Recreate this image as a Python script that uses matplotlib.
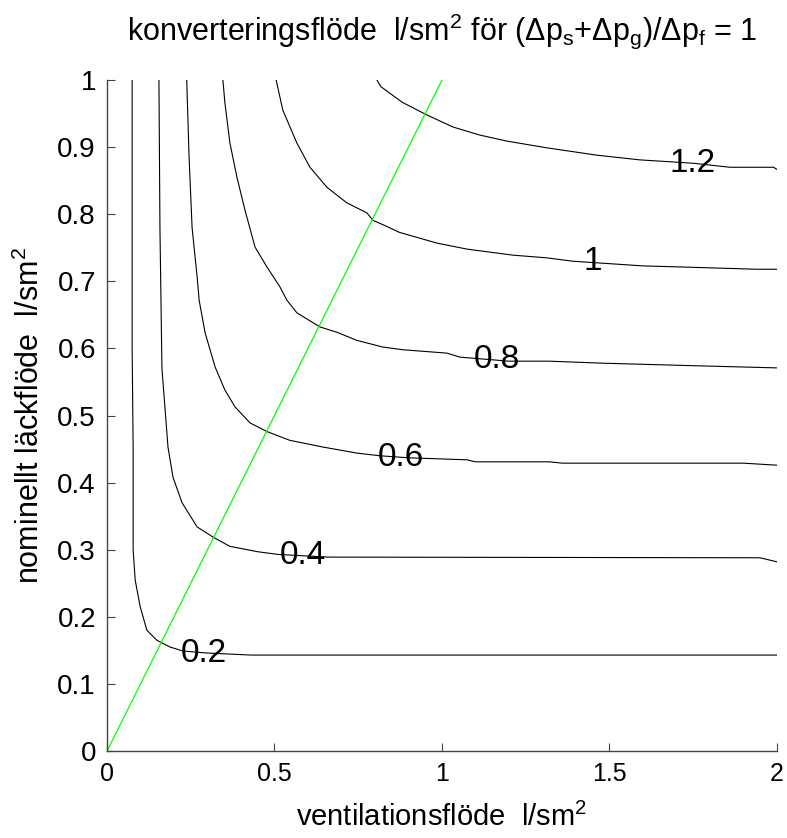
import matplotlib
matplotlib.use('Agg')
import matplotlib.pyplot as plt

plt.rcParams['font.family'] = ['Liberation Sans', 'DejaVu Sans']
plt.rcParams['mathtext.fontset'] = 'custom'
plt.rcParams['mathtext.rm'] = 'Liberation Sans'
plt.rcParams['mathtext.it'] = 'Liberation Sans'

# contour lines (x = ventilation flow, y = nominal leak flow)
x_02 = [0.075, 0.075, 0.078, 0.078, 0.084, 0.099, 0.119, 0.149, 0.188, 0.227, 0.30, 0.43, 2.0]
y_02 = [1.0, 0.60, 0.45, 0.30, 0.255, 0.215, 0.18, 0.165, 0.155, 0.149, 0.146, 0.143, 0.143]

x_04 = [0.155, 0.158, 0.164, 0.182, 0.197, 0.224, 0.269, 0.316, 0.367, 0.45, 0.51, 0.66, 1.95, 2.0]
y_04 = [1.0, 0.78, 0.57, 0.453, 0.408, 0.37, 0.334, 0.319, 0.305, 0.297, 0.293, 0.289, 0.288, 0.282]

x_06 = [0.238, 0.245, 0.254, 0.269, 0.275, 0.293, 0.323, 0.352, 0.382, 0.427, 0.478, 0.546,
        0.645, 0.746, 0.815, 0.90, 1.075, 1.10, 1.32, 1.36, 1.90, 2.0]
y_06 = [1.0, 0.885, 0.78, 0.707, 0.672, 0.623, 0.572, 0.538, 0.513, 0.489, 0.476, 0.463,
        0.453, 0.444, 0.44, 0.437, 0.434, 0.431, 0.431, 0.429, 0.429, 0.426]

x_08 = [0.346, 0.352, 0.367, 0.388, 0.412, 0.442, 0.478, 0.516, 0.537, 0.567, 0.636, 0.687,
        0.746, 0.824, 0.884, 1.015, 1.054, 1.20, 1.32, 1.48, 1.77, 2.0]
y_08 = [1.0, 0.966, 0.906, 0.855, 0.806, 0.751, 0.721, 0.692, 0.672, 0.653, 0.632, 0.624,
        0.612, 0.602, 0.598, 0.593, 0.587, 0.581, 0.581, 0.578, 0.574, 0.571]

x_10 = [0.505, 0.525, 0.567, 0.606, 0.657, 0.716, 0.776, 0.794, 0.83, 0.873, 0.985, 1.075,
        1.212, 1.313, 1.39, 1.60, 1.74, 1.94, 2.0]
y_10 = [1.0, 0.955, 0.906, 0.87, 0.84, 0.817, 0.802, 0.791, 0.783, 0.773, 0.757, 0.748,
        0.739, 0.735, 0.73, 0.723, 0.721, 0.718, 0.718]

x_12 = [0.806, 0.818, 0.881, 0.955, 1.033, 1.113, 1.194, 1.313, 1.463, 1.591, 1.75, 1.86, 1.99, 2.0]
y_12 = [1.0, 0.99, 0.967, 0.948, 0.93, 0.918, 0.909, 0.899, 0.888, 0.881, 0.876, 0.870, 0.870, 0.867]

contours = [(x_02, y_02), (x_04, y_04), (x_06, y_06), (x_08, y_08), (x_10, y_10), (x_12, y_12)]

level_labels = ['0.2', '0.4', '0.6', '0.8', '1', '1.2']
label_x = [0.29, 0.585, 0.878, 1.164, 1.45, 1.749]
label_y = [0.146, 0.291, 0.437, 0.583, 0.729, 0.876]

diag_x = [0, 1]
diag_y = [0, 1]

fig = plt.figure(figsize=(7.87, 8.38), dpi=100)
ax = fig.add_axes([0.136, 0.1038, 0.851, 0.8007])

for cx, cy in contours:
    ax.plot(cx, cy, color='black', lw=0.8)
ax.plot(diag_x, diag_y, color='#00ff00', lw=0.9)

for txt, lx, ly in zip(level_labels, label_x, label_y):
    ax.text(lx, ly, txt, fontsize=24, ha='center', va='center')

ax.set_xlim(0, 2)
ax.set_ylim(0, 1)
ax.set_xticks([0, 0.5, 1, 1.5, 2])
ax.set_xticklabels(['0', '0.5', '1', '1.5', '2'])
ax.set_yticks([i / 10 for i in range(11)])
ax.set_yticklabels(['0', '0.1', '0.2', '0.3', '0.4', '0.5', '0.6', '0.7', '0.8', '0.9', '1'])
ax.tick_params(direction='in', length=6, width=0.8, colors='#444444', labelcolor='black')
ax.tick_params(axis='x', labelsize=18, pad=8)
ax.tick_params(axis='y', labelsize=20, pad=8)
for s in ['top', 'right']:
    ax.spines[s].set_visible(False)
for s in ['left', 'bottom']:
    ax.spines[s].set_color('#444444')
    ax.spines[s].set_linewidth(1.0)

ax.set_title(r'konverteringsflöde  l/sm$^2$ för ($\Delta$p$_s$+$\Delta$p$_g$)/$\Delta$p$_f$ = 1',
             fontsize=22, pad=29)
ax.set_xlabel(r'ventilationsflöde  l/sm$^2$', fontsize=21, labelpad=12)
ax.set_ylabel(r'nominellt läckflöde  l/sm$^2$', fontsize=22, labelpad=8)

fig.savefig('out.png', dpi=100)
